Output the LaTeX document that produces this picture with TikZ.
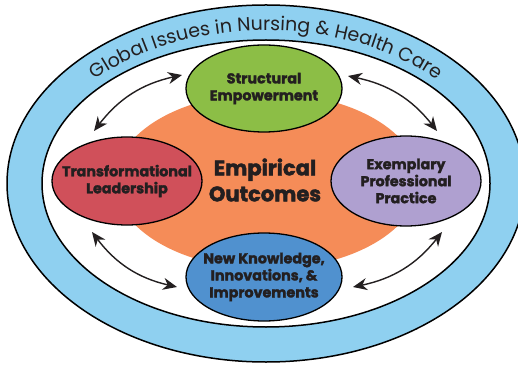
\documentclass[tikz,border=0pt]{standalone}
\usepackage{fontspec}
\setmainfont{Poppins}
\newfontfamily\heavy{Poppins}[BoldFeatures={FakeBold=2}]
\usetikzlibrary{arrows.meta,decorations.text,shapes.geometric}
\definecolor{ringblue}{RGB}{143,208,240}
\definecolor{orng}{RGB}{245,140,88}
\definecolor{grn}{RGB}{140,190,70}
\definecolor{rd}{RGB}{208,80,90}
\definecolor{prp}{RGB}{175,160,208}
\definecolor{blu}{RGB}{80,145,207}
\definecolor{txt}{RGB}{35,31,32}
\begin{document}
\begin{tikzpicture}[x=1pt,y=1pt,
  ell/.style={ellipse, draw=black, line width=1.3pt, inner sep=0pt},
  lbl/.style={align=center, text=txt, inner sep=0pt,
    font=\heavy\bfseries\fontsize{14.3}{17}\selectfont},
  link/.style={line width=1.4pt, draw=txt,
    {Stealth[length=14pt,width=12pt,inset=4.5pt]}-{Stealth[length=14pt,width=12pt,inset=4.5pt]}}
]
\useasboundingbox (0,0) rectangle (518,364);
\node[ellipse, draw=black, line width=1.5pt, fill=ringblue, inner sep=0pt,
  minimum width=518pt, minimum height=357pt] (outer) at (266,180.5) {};
\node[ellipse, draw=black, line width=1.5pt, fill=white, inner sep=0pt,
  minimum width=448pt, minimum height=287pt] (inner) at (266,180.5) {};
\path[decorate, decoration={text along path, text align=center,
  text={|\fontsize{19}{19}\selectfont\color{txt}|Global Issues in Nursing {\&} Health Care}}]
  (266,180.5) ++(155:232pt and 153pt) arc[start angle=155, end angle=25, x radius=232pt, y radius=153pt];
\node[ellipse, fill=orng, inner sep=0pt, minimum width=304pt, minimum height=176pt] (core) at (267,183) {};
\node[ell, fill=grn, minimum width=156pt, minimum height=87pt] (se) at (264,275.5) {};
\node[ell, fill=rd, minimum width=150pt, minimum height=88pt] (tl) at (127,183) {};
\node[ell, fill=prp, minimum width=150pt, minimum height=90pt] (ep) at (406,183) {};
\node[ell, fill=blu, minimum width=156pt, minimum height=88pt] (nk) at (264,87) {};
\node[lbl] (se-t) at (se.center) {Structural\\Empowerment};
\node[lbl] (tl-t) at (tl.center) {Transformational\\Leadership};
\node[lbl] (ep-t) at (ep.center) {Exemplary\\Professional\\Practice};
\node[lbl] (nk-t) at (nk.center) {New Knowledge,\\Innovations, \&\\Improvements};
\node[align=center, text=txt, font=\heavy\bfseries\fontsize{21}{26}\selectfont] (eo) at (265,184) {Empirical\\Outcomes};
\coordinate (a1) at (182,289); \coordinate (b1) at (94,233);
\coordinate (a2) at (348,288); \coordinate (b2) at (437,233);
\coordinate (a3) at (92,132);  \coordinate (b3) at (177,77);
\coordinate (a4) at (442,132); \coordinate (b4) at (353,77);
\draw[link] (a1) to[bend right=20] (b1);
\draw[link] (a2) to[bend left=20] (b2);
\draw[link] (a3) to[bend right=20] (b3);
\draw[link] (a4) to[bend left=20] (b4);
\end{tikzpicture}
\end{document}
